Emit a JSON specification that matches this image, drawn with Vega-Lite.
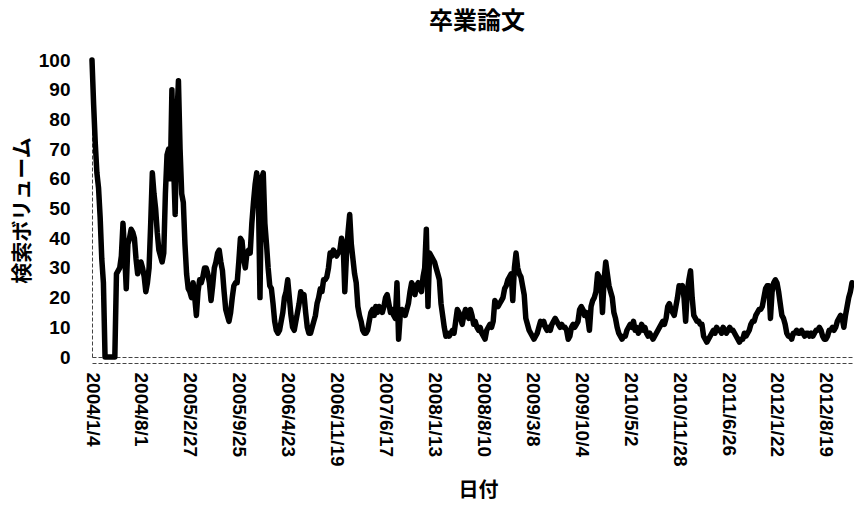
{
"$schema": "https://vega.github.io/schema/vega-lite/v6.json",
"autosize": "none",
"width": 760,
"height": 297,
"padding": {"left": 92, "top": 60, "right": 2, "bottom": 149},
"background": "white",
"config": {"view": {"stroke": null}, "axis": {"labelOverlap": false, "labelSeparation": -40}},
"title": {"text": "卒業論文", "font": "Noto Sans CJK JP", "fontSize": 24, "fontWeight": "bold", "color": "black", "anchor": "middle", "frame": "group", "offset": 17, "dx": 5},
"data": {"values": [
{"d":"2004/1/4","v":100},{"d":"2004/1/11","v":85},{"d":"2004/1/18","v":72},{"d":"2004/1/25","v":62},{"d":"2004/2/1","v":57},{"d":"2004/2/8","v":47},{"d":"2004/2/15","v":33},{"d":"2004/2/22","v":25},{"d":"2004/2/29","v":0},{"d":"2004/3/7","v":0},{"d":"2004/3/14","v":0},{"d":"2004/3/21","v":0},{"d":"2004/3/28","v":0},{"d":"2004/4/4","v":0},{"d":"2004/4/11","v":0},{"d":"2004/4/18","v":28},{"d":"2004/4/25","v":29},{"d":"2004/5/2","v":30},{"d":"2004/5/9","v":34},{"d":"2004/5/16","v":45},{"d":"2004/5/23","v":35},{"d":"2004/5/30","v":23},{"d":"2004/6/6","v":38},{"d":"2004/6/13","v":40},{"d":"2004/6/20","v":43},{"d":"2004/6/27","v":42},{"d":"2004/7/4","v":40},{"d":"2004/7/11","v":33},{"d":"2004/7/18","v":28},{"d":"2004/7/25","v":30},{"d":"2004/8/1","v":32},{"d":"2004/8/8","v":30},{"d":"2004/8/15","v":27},{"d":"2004/8/22","v":22},{"d":"2004/8/29","v":25},{"d":"2004/9/5","v":30},{"d":"2004/9/12","v":45},{"d":"2004/9/19","v":62},{"d":"2004/9/26","v":55},{"d":"2004/10/3","v":50},{"d":"2004/10/10","v":42},{"d":"2004/10/17","v":36},{"d":"2004/10/24","v":34},{"d":"2004/10/31","v":32},{"d":"2004/11/7","v":35},{"d":"2004/11/14","v":55},{"d":"2004/11/21","v":68},{"d":"2004/11/28","v":70},{"d":"2004/12/5","v":60},{"d":"2004/12/12","v":90},{"d":"2004/12/19","v":65},{"d":"2004/12/26","v":48},
{"d":"2005/1/2","v":80},{"d":"2005/1/9","v":93},{"d":"2005/1/16","v":70},{"d":"2005/1/23","v":55},{"d":"2005/1/30","v":52},{"d":"2005/2/6","v":38},{"d":"2005/2/13","v":28},{"d":"2005/2/20","v":23},{"d":"2005/2/27","v":22},{"d":"2005/3/6","v":20},{"d":"2005/3/13","v":25},{"d":"2005/3/20","v":20},{"d":"2005/3/27","v":14},{"d":"2005/4/3","v":22},{"d":"2005/4/10","v":26},{"d":"2005/4/17","v":25},{"d":"2005/4/24","v":27},{"d":"2005/5/1","v":30},{"d":"2005/5/8","v":30},{"d":"2005/5/15","v":28},{"d":"2005/5/22","v":25},{"d":"2005/5/29","v":19},{"d":"2005/6/5","v":24},{"d":"2005/6/12","v":30},{"d":"2005/6/19","v":32},{"d":"2005/6/26","v":35},{"d":"2005/7/3","v":36},{"d":"2005/7/10","v":32},{"d":"2005/7/17","v":29},{"d":"2005/7/24","v":22},{"d":"2005/7/31","v":16},{"d":"2005/8/7","v":14},{"d":"2005/8/14","v":12},{"d":"2005/8/21","v":15},{"d":"2005/8/28","v":20},{"d":"2005/9/4","v":24},{"d":"2005/9/11","v":25},{"d":"2005/9/18","v":25},{"d":"2005/9/25","v":32},{"d":"2005/10/2","v":40},{"d":"2005/10/9","v":39},{"d":"2005/10/16","v":33},{"d":"2005/10/23","v":30},{"d":"2005/10/30","v":35},{"d":"2005/11/6","v":36},{"d":"2005/11/13","v":35},{"d":"2005/11/20","v":45},{"d":"2005/11/27","v":52},{"d":"2005/12/4","v":58},{"d":"2005/12/11","v":62},{"d":"2005/12/18","v":55},{"d":"2005/12/25","v":20},
{"d":"2006/1/1","v":60},{"d":"2006/1/8","v":62},{"d":"2006/1/15","v":45},{"d":"2006/1/22","v":38},{"d":"2006/1/29","v":30},{"d":"2006/2/5","v":24},{"d":"2006/2/12","v":23},{"d":"2006/2/19","v":18},{"d":"2006/2/26","v":12},{"d":"2006/3/5","v":9},{"d":"2006/3/12","v":8},{"d":"2006/3/19","v":9},{"d":"2006/3/26","v":12},{"d":"2006/4/2","v":15},{"d":"2006/4/9","v":20},{"d":"2006/4/16","v":22},{"d":"2006/4/23","v":26},{"d":"2006/4/30","v":20},{"d":"2006/5/7","v":14},{"d":"2006/5/14","v":10},{"d":"2006/5/21","v":9},{"d":"2006/5/28","v":12},{"d":"2006/6/4","v":15},{"d":"2006/6/11","v":18},{"d":"2006/6/18","v":22},{"d":"2006/6/25","v":20},{"d":"2006/7/2","v":21},{"d":"2006/7/9","v":15},{"d":"2006/7/16","v":10},{"d":"2006/7/23","v":8},{"d":"2006/7/30","v":8},{"d":"2006/8/6","v":10},{"d":"2006/8/13","v":12},{"d":"2006/8/20","v":14},{"d":"2006/8/27","v":18},{"d":"2006/9/3","v":20},{"d":"2006/9/10","v":23},{"d":"2006/9/17","v":22},{"d":"2006/9/24","v":26},{"d":"2006/10/1","v":26},{"d":"2006/10/8","v":27},{"d":"2006/10/15","v":30},{"d":"2006/10/22","v":35},{"d":"2006/10/29","v":34},{"d":"2006/11/5","v":36},{"d":"2006/11/12","v":35},{"d":"2006/11/19","v":34},{"d":"2006/11/26","v":35},{"d":"2006/12/3","v":36},{"d":"2006/12/10","v":40},{"d":"2006/12/17","v":38},{"d":"2006/12/24","v":22},{"d":"2006/12/31","v":34},
{"d":"2007/1/7","v":42},{"d":"2007/1/14","v":48},{"d":"2007/1/21","v":38},{"d":"2007/1/28","v":33},{"d":"2007/2/4","v":28},{"d":"2007/2/11","v":25},{"d":"2007/2/18","v":17},{"d":"2007/2/25","v":14},{"d":"2007/3/4","v":12},{"d":"2007/3/11","v":9},{"d":"2007/3/18","v":8},{"d":"2007/3/25","v":8},{"d":"2007/4/1","v":9},{"d":"2007/4/8","v":12},{"d":"2007/4/15","v":15},{"d":"2007/4/22","v":16},{"d":"2007/4/29","v":14},{"d":"2007/5/6","v":17},{"d":"2007/5/13","v":15},{"d":"2007/5/20","v":17},{"d":"2007/5/27","v":16},{"d":"2007/6/3","v":15},{"d":"2007/6/10","v":17},{"d":"2007/6/17","v":20},{"d":"2007/6/24","v":21},{"d":"2007/7/1","v":18},{"d":"2007/7/8","v":15},{"d":"2007/7/15","v":16},{"d":"2007/7/22","v":14},{"d":"2007/7/29","v":13},{"d":"2007/8/5","v":25},{"d":"2007/8/12","v":6},{"d":"2007/8/19","v":14},{"d":"2007/8/26","v":16},{"d":"2007/9/2","v":15},{"d":"2007/9/9","v":14},{"d":"2007/9/16","v":16},{"d":"2007/9/23","v":18},{"d":"2007/9/30","v":22},{"d":"2007/10/7","v":25},{"d":"2007/10/14","v":24},{"d":"2007/10/21","v":21},{"d":"2007/10/28","v":24},{"d":"2007/11/4","v":25},{"d":"2007/11/11","v":23},{"d":"2007/11/18","v":22},{"d":"2007/11/25","v":27},{"d":"2007/12/2","v":30},{"d":"2007/12/9","v":43},{"d":"2007/12/16","v":17},{"d":"2007/12/23","v":35},{"d":"2007/12/30","v":34},
{"d":"2008/1/6","v":33},{"d":"2008/1/13","v":32},{"d":"2008/1/20","v":30},{"d":"2008/1/27","v":28},{"d":"2008/2/3","v":26},{"d":"2008/2/10","v":18},{"d":"2008/2/17","v":14},{"d":"2008/2/24","v":10},{"d":"2008/3/2","v":7},{"d":"2008/3/9","v":8},{"d":"2008/3/16","v":7},{"d":"2008/3/23","v":8},{"d":"2008/3/30","v":9},{"d":"2008/4/6","v":8},{"d":"2008/4/13","v":12},{"d":"2008/4/20","v":16},{"d":"2008/4/27","v":15},{"d":"2008/5/4","v":13},{"d":"2008/5/11","v":11},{"d":"2008/5/18","v":14},{"d":"2008/5/25","v":16},{"d":"2008/6/1","v":15},{"d":"2008/6/8","v":13},{"d":"2008/6/15","v":16},{"d":"2008/6/22","v":14},{"d":"2008/6/29","v":11},{"d":"2008/7/6","v":12},{"d":"2008/7/13","v":10},{"d":"2008/7/20","v":9},{"d":"2008/7/27","v":10},{"d":"2008/8/3","v":8},{"d":"2008/8/10","v":7},{"d":"2008/8/17","v":6},{"d":"2008/8/24","v":9},{"d":"2008/8/31","v":10},{"d":"2008/9/7","v":11},{"d":"2008/9/14","v":10},{"d":"2008/9/21","v":12},{"d":"2008/9/28","v":19},{"d":"2008/10/5","v":18},{"d":"2008/10/12","v":17},{"d":"2008/10/19","v":18},{"d":"2008/10/26","v":19},{"d":"2008/11/2","v":20},{"d":"2008/11/9","v":23},{"d":"2008/11/16","v":24},{"d":"2008/11/23","v":26},{"d":"2008/11/30","v":27},{"d":"2008/12/7","v":28},{"d":"2008/12/14","v":19},{"d":"2008/12/21","v":30},{"d":"2008/12/28","v":35},
{"d":"2009/1/4","v":30},{"d":"2009/1/11","v":28},{"d":"2009/1/18","v":27},{"d":"2009/1/25","v":24},{"d":"2009/2/1","v":21},{"d":"2009/2/8","v":13},{"d":"2009/2/15","v":11},{"d":"2009/2/22","v":9},{"d":"2009/3/1","v":8},{"d":"2009/3/8","v":7},{"d":"2009/3/15","v":6},{"d":"2009/3/22","v":7},{"d":"2009/3/29","v":8},{"d":"2009/4/5","v":10},{"d":"2009/4/12","v":12},{"d":"2009/4/19","v":11},{"d":"2009/4/26","v":12},{"d":"2009/5/3","v":10},{"d":"2009/5/10","v":9},{"d":"2009/5/17","v":10},{"d":"2009/5/24","v":9},{"d":"2009/5/31","v":11},{"d":"2009/6/7","v":12},{"d":"2009/6/14","v":13},{"d":"2009/6/21","v":12},{"d":"2009/6/28","v":11},{"d":"2009/7/5","v":10},{"d":"2009/7/12","v":11},{"d":"2009/7/19","v":10},{"d":"2009/7/26","v":10},{"d":"2009/8/2","v":9},{"d":"2009/8/9","v":6},{"d":"2009/8/16","v":7},{"d":"2009/8/23","v":10},{"d":"2009/8/30","v":11},{"d":"2009/9/6","v":10},{"d":"2009/9/13","v":11},{"d":"2009/9/20","v":12},{"d":"2009/9/27","v":16},{"d":"2009/10/4","v":17},{"d":"2009/10/11","v":16},{"d":"2009/10/18","v":14},{"d":"2009/10/25","v":15},{"d":"2009/11/1","v":13},{"d":"2009/11/8","v":9},{"d":"2009/11/15","v":17},{"d":"2009/11/22","v":19},{"d":"2009/11/29","v":20},{"d":"2009/12/6","v":22},{"d":"2009/12/13","v":28},{"d":"2009/12/20","v":27},{"d":"2009/12/27","v":25},
{"d":"2010/1/3","v":15},{"d":"2010/1/10","v":26},{"d":"2010/1/17","v":32},{"d":"2010/1/24","v":28},{"d":"2010/1/31","v":24},{"d":"2010/2/7","v":22},{"d":"2010/2/14","v":20},{"d":"2010/2/21","v":15},{"d":"2010/2/28","v":13},{"d":"2010/3/7","v":10},{"d":"2010/3/14","v":8},{"d":"2010/3/21","v":7},{"d":"2010/3/28","v":6},{"d":"2010/4/4","v":7},{"d":"2010/4/11","v":7},{"d":"2010/4/18","v":9},{"d":"2010/4/25","v":10},{"d":"2010/5/2","v":11},{"d":"2010/5/9","v":10},{"d":"2010/5/16","v":12},{"d":"2010/5/23","v":9},{"d":"2010/5/30","v":10},{"d":"2010/6/6","v":8},{"d":"2010/6/13","v":9},{"d":"2010/6/20","v":11},{"d":"2010/6/27","v":9},{"d":"2010/7/4","v":10},{"d":"2010/7/11","v":8},{"d":"2010/7/18","v":7},{"d":"2010/7/25","v":8},{"d":"2010/8/1","v":7},{"d":"2010/8/8","v":6},{"d":"2010/8/15","v":7},{"d":"2010/8/22","v":8},{"d":"2010/8/29","v":9},{"d":"2010/9/5","v":10},{"d":"2010/9/12","v":11},{"d":"2010/9/19","v":12},{"d":"2010/9/26","v":11},{"d":"2010/10/3","v":13},{"d":"2010/10/10","v":17},{"d":"2010/10/17","v":18},{"d":"2010/10/24","v":16},{"d":"2010/10/31","v":15},{"d":"2010/11/7","v":14},{"d":"2010/11/14","v":17},{"d":"2010/11/21","v":20},{"d":"2010/11/28","v":24},{"d":"2010/12/5","v":23},{"d":"2010/12/12","v":24},{"d":"2010/12/19","v":20},{"d":"2010/12/26","v":12},
{"d":"2011/1/2","v":22},{"d":"2011/1/9","v":26},{"d":"2011/1/16","v":29},{"d":"2011/1/23","v":20},{"d":"2011/1/30","v":14},{"d":"2011/2/6","v":13},{"d":"2011/2/13","v":12},{"d":"2011/2/20","v":12},{"d":"2011/2/27","v":11},{"d":"2011/3/6","v":11},{"d":"2011/3/13","v":7},{"d":"2011/3/20","v":6},{"d":"2011/3/27","v":5},{"d":"2011/4/3","v":6},{"d":"2011/4/10","v":7},{"d":"2011/4/17","v":8},{"d":"2011/4/24","v":9},{"d":"2011/5/1","v":8},{"d":"2011/5/8","v":10},{"d":"2011/5/15","v":9},{"d":"2011/5/22","v":9},{"d":"2011/5/29","v":8},{"d":"2011/6/5","v":10},{"d":"2011/6/12","v":9},{"d":"2011/6/19","v":8},{"d":"2011/6/26","v":9},{"d":"2011/7/3","v":10},{"d":"2011/7/10","v":9},{"d":"2011/7/17","v":9},{"d":"2011/7/24","v":8},{"d":"2011/7/31","v":7},{"d":"2011/8/7","v":6},{"d":"2011/8/14","v":5},{"d":"2011/8/21","v":6},{"d":"2011/8/28","v":6},{"d":"2011/9/4","v":8},{"d":"2011/9/11","v":7},{"d":"2011/9/18","v":8},{"d":"2011/9/25","v":9},{"d":"2011/10/2","v":11},{"d":"2011/10/9","v":12},{"d":"2011/10/16","v":12},{"d":"2011/10/23","v":14},{"d":"2011/10/30","v":15},{"d":"2011/11/6","v":16},{"d":"2011/11/13","v":16},{"d":"2011/11/20","v":17},{"d":"2011/11/27","v":20},{"d":"2011/12/4","v":23},{"d":"2011/12/11","v":24},{"d":"2011/12/18","v":24},{"d":"2011/12/25","v":13},
{"d":"2012/1/1","v":22},{"d":"2012/1/8","v":25},{"d":"2012/1/15","v":26},{"d":"2012/1/22","v":25},{"d":"2012/1/29","v":22},{"d":"2012/2/5","v":18},{"d":"2012/2/12","v":14},{"d":"2012/2/19","v":13},{"d":"2012/2/26","v":11},{"d":"2012/3/4","v":8},{"d":"2012/3/11","v":7},{"d":"2012/3/18","v":7},{"d":"2012/3/25","v":6},{"d":"2012/4/1","v":8},{"d":"2012/4/8","v":8},{"d":"2012/4/15","v":9},{"d":"2012/4/22","v":8},{"d":"2012/4/29","v":8},{"d":"2012/5/6","v":9},{"d":"2012/5/13","v":8},{"d":"2012/5/20","v":7},{"d":"2012/5/27","v":8},{"d":"2012/6/3","v":8},{"d":"2012/6/10","v":7},{"d":"2012/6/17","v":8},{"d":"2012/6/24","v":7},{"d":"2012/7/1","v":8},{"d":"2012/7/8","v":9},{"d":"2012/7/15","v":9},{"d":"2012/7/22","v":10},{"d":"2012/7/29","v":9},{"d":"2012/8/5","v":7},{"d":"2012/8/12","v":6},{"d":"2012/8/19","v":6},{"d":"2012/8/26","v":7},{"d":"2012/9/2","v":9},{"d":"2012/9/9","v":9},{"d":"2012/9/16","v":10},{"d":"2012/9/23","v":9},{"d":"2012/9/30","v":10},{"d":"2012/10/7","v":12},{"d":"2012/10/14","v":13},{"d":"2012/10/21","v":14},{"d":"2012/10/28","v":13},{"d":"2012/11/4","v":10},{"d":"2012/11/11","v":14},{"d":"2012/11/18","v":17},{"d":"2012/11/25","v":20},{"d":"2012/12/2","v":22},{"d":"2012/12/9","v":25}
]},
"mark": {"type": "line", "color": "black", "strokeWidth": 5.5, "strokeJoin": "round", "strokeCap": "round"},
"encoding": {
  "x": {"field": "d", "type": "ordinal", "sort": null, "scale": {"type": "point", "padding": 0},
   "axis": {"values": ["2004/1/4","2004/8/1","2005/2/27","2005/9/25","2006/4/23","2006/11/19","2007/6/17","2008/1/13","2008/8/10","2009/3/8","2009/10/4","2010/5/2","2010/11/28","2011/6/26","2012/1/22","2012/8/19"],
    "labelAngle": 90, "labelOverlap": false, "ticks": false, "tickSize": 0, "offset": 6, "domainColor": "#444444", "domainDash": [4, 2], "domainWidth": 1,
    "labelFont": "Liberation Sans", "labelFontWeight": "bold", "labelFontSize": 19, "labelColor": "black", "labelPadding": 9,
    "title": "日付", "titleFont": "Noto Sans CJK JP", "titleFontSize": 20, "titleFontWeight": "bold", "titleColor": "black",
    "titleX": 386, "titleY": 127, "titleBaseline": "middle", "titleAlign": "center"}},
  "y": {"field": "v", "type": "quantitative", "scale": {"domain": [0, 100], "nice": false},
   "axis": {"values": [0,10,20,30,40,50,60,70,80,90,100], "labelOverlap": false, "labelSeparation": -40, "ticks": false, "tickSize": 0,
    "grid": true, "gridColor": "#444444", "gridDash": [4, 2], "gridWidth": 1,
    "gridOpacity": {"condition": {"test": "datum.value === 0", "value": 1}, "value": 0},
    "domainColor": "#444444", "domainDash": [4, 2], "domainWidth": 1,
    "labelFont": "Liberation Sans", "labelFontWeight": "bold", "labelFontSize": 19, "labelColor": "black", "labelPadding": 22,
    "title": "検索ボリューム", "titleFont": "Noto Sans CJK JP", "titleFontSize": 21, "titleFontWeight": "bold", "titleColor": "black",
    "titleAngle": -90, "titleX": -70, "titleY": 150, "titleBaseline": "middle", "titleAlign": "center"}}
}
}
